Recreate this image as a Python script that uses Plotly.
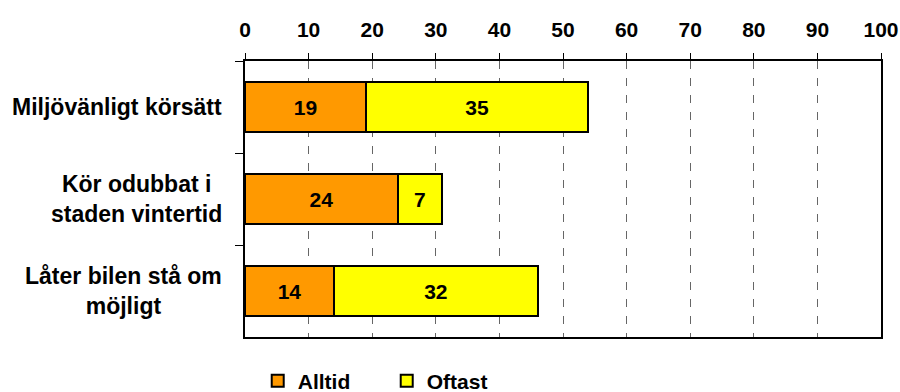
import plotly.graph_objects as go

# Survey answers, percent of respondents
categories = ["Miljövänligt körsätt", "Kör odubbat i<br>staden vintertid", "Låter bilen stå om<br>möjligt"]
alltid = [19, 24, 14]
oftast = [35, 7, 32]
x_ticks = [0, 10, 20, 30, 40, 50, 60, 70, 80, 90, 100]

FONT = "Liberation Sans, Arial, sans-serif"
ids = ["c0", "c1", "c2"]

fig = go.Figure()
for name, vals, color in [("Alltid", alltid, "#FF9900"), ("Oftast", oftast, "#FFFF00")]:
    fig.add_trace(go.Bar(
        y=ids, x=vals, name=name, orientation="h",
        marker=dict(color=color, line=dict(color="black", width=2)),
        text=[str(v) for v in vals], textposition="inside",
        insidetextanchor="middle", constraintext="none",
        textfont=dict(family=FONT, size=21, color="black", weight="bold"),
    ))

# Category labels, each block centred on itself and right-aligned to the axis
for cid, label in zip(ids, categories):
    fig.add_annotation(
        x=-0.033, xref="paper", xanchor="right",
        y=cid, yref="y", yanchor="middle",
        text=label, align="center", showarrow=False,
        font=dict(family=FONT, size=23, color="black", weight="bold"),
    )

fig.update_layout(
    width=900, height=392,
    barmode="stack", bargap=0.45,
    plot_bgcolor="white", paper_bgcolor="white",
    margin=dict(l=245, r=19, t=61, b=55, autoexpand=False),
    showlegend=True,
    legend=dict(
        orientation="h", x=0.02, xanchor="left", y=-0.16, yanchor="middle",
        font=dict(family=FONT, size=21, color="black", weight="bold"),
        traceorder="normal", entrywidth=84,
    ),
    xaxis=dict(
        side="top", range=[0, 100], tickvals=x_ticks,
        showgrid=True, gridcolor="#666666", griddash="8px,9px", gridwidth=1,
        showline=True, linecolor="black", linewidth=2, mirror=True,
        ticks="outside", ticklen=6, tickcolor="black", tickwidth=1,
        ticklabelstandoff=8,
        tickfont=dict(family=FONT, size=21, color="black", weight="bold"),
        zeroline=False,
    ),
    yaxis=dict(
        categoryorder="array", categoryarray=ids, autorange="reversed",
        showticklabels=False, showgrid=False,
        showline=True, linecolor="black", linewidth=2, mirror=True,
        ticks="outside", ticklen=8, tickcolor="black", tickwidth=1,
        tickson="boundaries",
    ),
)

fig.write_html("out.html")
